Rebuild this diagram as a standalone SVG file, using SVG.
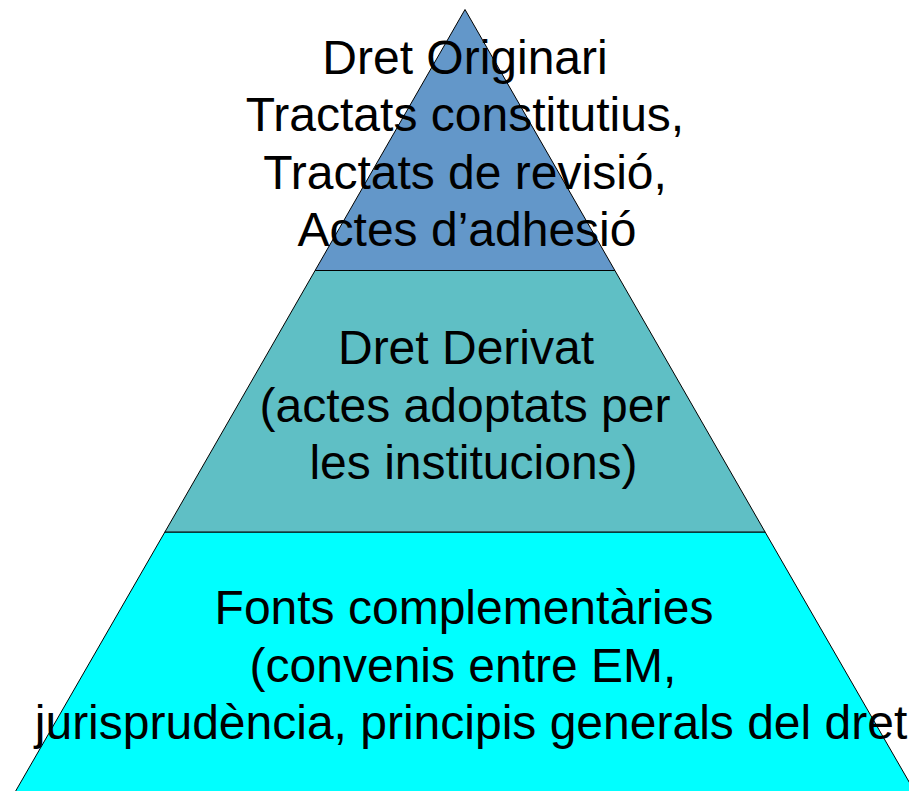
<svg xmlns="http://www.w3.org/2000/svg" width="909" height="791" viewBox="0 0 909 791">
<style>
.band{stroke:#000;stroke-width:1;stroke-linejoin:miter}
.t{font-family:"Liberation Sans",Arial,sans-serif;font-size:48px;fill:#000;text-anchor:middle}
</style>
<rect x="0" y="0" width="909" height="791" fill="#fff"/>
<g id="tier-bottom">
<polygon class="band" fill="#00FFFF" points="164.9,532 765.1,532 919.5,800 10.5,800"/>
<text class="t" x="464" y="624">Fonts complementàries</text>
<text class="t" x="463" y="682">(convenis entre EM,</text>
<text class="t" x="471" y="739">jurisprudència, principis generals del dret</text>
</g>
<g id="tier-middle">
<polygon class="band" fill="#5FBFC5" points="315.1,270.5 614.9,270.5 765.1,532 164.9,532"/>
<text class="t" x="466" y="364">Dret Derivat</text>
<text class="t" x="465" y="422">(actes adoptats per</text>
<text class="t" x="473.5" y="479">les institucions)</text>
</g>
<g id="tier-top">
<polygon class="band" fill="#6397C9" points="465,9.5 614.9,270.5 315.1,270.5"/>
</g>
<g id="tier-top-label">
<text class="t" x="465" y="74">Dret Originari</text>
<text class="t" x="465" y="131">Tractats constitutius,</text>
<text class="t" x="465" y="189">Tractats de revisió,</text>
<text class="t" x="467" y="246">Actes d’adhesió</text>
</g>
<g id="connectors"></g>
</svg>
